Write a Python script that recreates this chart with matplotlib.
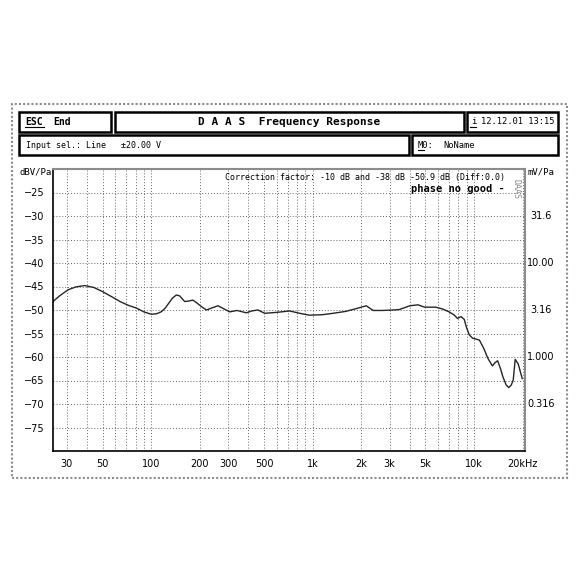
import numpy as np
import matplotlib
matplotlib.use("Agg")
import matplotlib.pyplot as plt
from matplotlib.patches import Rectangle

# frequency response
freq = [24.6, 27, 30.5, 34, 38.7, 44, 50, 57, 64, 72, 81, 90, 100, 108, 115,
        122, 135, 143, 150, 161, 170, 181, 190, 205, 220, 240, 259, 280, 306,
        340, 389, 420, 458, 505, 600, 720, 830, 954, 1150, 1340, 1600, 1820,
        2150, 2370, 2700, 3150, 3450, 4000, 4500, 4940, 5800, 6400, 7000,
        7500, 7900, 8300, 8700, 9000, 9350, 9800, 10300, 10800, 11500, 12200,
        13000, 13500, 14000, 14600, 15100, 15800, 16400, 17000, 17500, 18000,
        18800, 19900]
level = [-48.2, -47.0, -45.7, -45.1, -44.8, -45.2, -46.1, -47.2, -48.2, -49.0,
         -49.6, -50.4, -50.9, -50.8, -50.4, -49.6, -47.5, -46.8, -47.0, -48.2,
         -48.1, -47.9, -48.4, -49.3, -50.0, -49.5, -49.1, -49.7, -50.4, -50.1,
         -50.6, -50.2, -50.0, -50.7, -50.5, -50.2, -50.7, -51.1, -51.0, -50.7,
         -50.3, -49.8, -49.1, -50.1, -50.1, -50.0, -49.9, -49.1, -48.9, -49.4,
         -49.4, -49.8, -50.4, -51.0, -51.8, -51.4, -52.0, -53.8, -55.3, -56.0,
         -56.2, -56.4, -58.2, -60.3, -61.9, -61.2, -60.8, -62.5, -64.2, -65.9,
         -66.5, -66.0, -64.9, -60.5, -61.5, -64.6]

yticks = [-25, -30, -35, -40, -45, -50, -55, -60, -65, -70, -75]
xticks = [30, 50, 100, 200, 300, 500, 1000, 2000, 3000, 5000, 10000, 20000]
xlabels = ["30", "50", "100", "200", "300", "500", "1k", "2k", "3k", "5k", "10k", "20kHz"]
right_ticks = [-30, -40, -50, -60, -70]
right_labels = ["31.6", "10.00", "3.16", "1.000", "0.316"]

W, H = 580, 580
fig = plt.figure(figsize=(5.8, 5.8), dpi=100)
mono = "DejaVu Sans Mono"


def box(x0, y0, x1, y1, **kw):
    # pixel coords (top-left origin) -> figure coords
    r = Rectangle((x0 / W, 1 - y1 / H), (x1 - x0) / W, (y1 - y0) / H,
                  transform=fig.transFigure, fill=False, **kw)
    fig.add_artist(r)


def ftext(x, y, s, **kw):
    fig.text(x / W, 1 - y / H, s, family=mono, va="center", **kw)


def uline(x0, x1, y):
    fig.add_artist(plt.Line2D([x0 / W, x1 / W], [1 - y / H, 1 - y / H], lw=0.8, color="black"))


# outer frame and header boxes
box(12, 104, 567, 478, lw=1.5, edgecolor="0.55", linestyle=(0, (1, 1)))
box(19, 112, 111, 132, lw=1.8, edgecolor="black")
box(115, 112, 464, 132, lw=1.8, edgecolor="black")
box(467, 112, 558, 132, lw=1.8, edgecolor="black")
box(19, 135, 409, 155, lw=1.8, edgecolor="black")
box(412, 135, 558, 155, lw=1.8, edgecolor="black")

ftext(25, 122, "ESC", fontsize=7, weight="bold")
uline(25, 44, 127)
ftext(53, 122, "End", fontsize=7, weight="bold")
ftext(289, 122, "D A A S  Frequency Response", fontsize=8, weight="bold", ha="center")
ftext(471, 122, "i", fontsize=6.5)
uline(470, 476, 127)
ftext(481, 122, "12.12.01 13:15", fontsize=6.3)
ftext(26, 145, "Input sel.: Line   \u00b120.00 V", fontsize=6)
ftext(418, 145, "M0:", fontsize=6.3)
uline(418, 424, 150)
ftext(443, 145, "NoName", fontsize=6.3)

# plot area
ax = fig.add_axes([53 / W, 1 - 451 / H, (525 - 53) / W, (451 - 169) / H])
ax.set_xscale("log")
ax.set_xlim(24.6, 20700)
ax.set_ylim(-80, -20)
ax.plot(freq, level, color="0.15", lw=1.0)

ax.set_yticks(yticks)
ax.set_yticklabels([str(v).replace("-", "\u2212") for v in yticks], fontsize=7)
ax.set_xticks(xticks)
ax.set_xticklabels(xlabels, fontsize=7)
ax.xaxis.set_minor_locator(matplotlib.ticker.LogLocator(base=10, subs=np.arange(2, 10)))
ax.xaxis.set_minor_formatter(matplotlib.ticker.NullFormatter())
ax.tick_params(axis="both", which="both", length=0, pad=6)
ax.grid(True, which="both", axis="x", color="0.4", lw=0.7, linestyle=(0, (1, 2)))
ax.grid(True, which="major", axis="y", color="0.4", lw=0.7, linestyle=(0, (1, 2)))

for side in ["left", "bottom"]:
    ax.spines[side].set_color("black")
    ax.spines[side].set_linewidth(1.2)
for side in ["top", "right"]:
    ax.spines[side].set_color("0.55")
    ax.spines[side].set_linewidth(1.5)

# right side scale in mV/Pa
for v, lab in zip(right_ticks, right_labels):
    ax.text(1.034, v, lab, transform=ax.get_yaxis_transform(), fontsize=7,
            ha="center", va="center")
ftext(541, 172, "mV/Pa", fontsize=6.5, ha="center")
ftext(20, 172, "dBV/Pa", fontsize=6.5)

ax.text(0.958, 0.97, "Correction factor: -10 dB and -38 dB -50.9 dB (Diff:0.0)",
        transform=ax.transAxes, family=mono, fontsize=6, ha="right", va="center")
ax.text(0.958, 0.93, "phase no good -", transform=ax.transAxes, family=mono,
        fontsize=7.5, weight="bold", ha="right", va="center")
ax.text(0.98, 0.93, "DAAS", transform=ax.transAxes, family=mono, fontsize=6,
        rotation=-90, ha="center", va="center", color="0.55")

fig.savefig("out.png", dpi=100, facecolor="white")
